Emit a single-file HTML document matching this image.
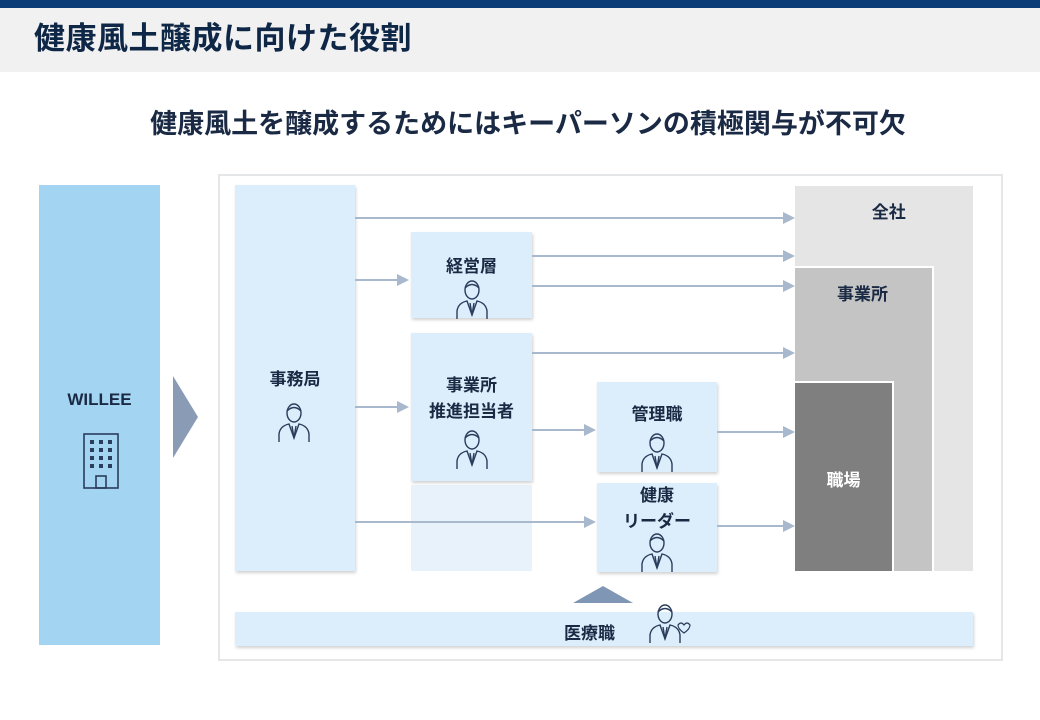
<!DOCTYPE html>
<html><head><meta charset="utf-8"><style>
*{margin:0;padding:0;box-sizing:border-box}
body{width:1040px;height:720px;background:#fff;position:relative;overflow:hidden;font-family:"Liberation Sans","Noto Sans CJK JP",sans-serif;color:#1b2a44}
.a{position:absolute}
.box{position:absolute;background:#dceefb;box-shadow:1px 2px 3px rgba(0,0,0,.18)}
.lbl{position:absolute;width:100%;text-align:center;font-weight:bold;font-size:17px;line-height:26px}
.ln{position:absolute;height:2px;background:#a9b9cd}
.ah{position:absolute;width:0;height:0;border-top:6px solid transparent;border-bottom:6px solid transparent;border-left:12px solid #a9b9cd}
svg.p{position:absolute}
</style></head><body>
<div class="a" style="left:0;top:0;width:1040px;height:8px;background:#0b3c78"></div>
<div class="a" style="left:0;top:8px;width:1040px;height:64px;background:#f1f1f1"></div>
<div class="a" style="left:34px;top:19px;font-size:31px;letter-spacing:0.5px;font-weight:bold;line-height:40px;color:#0f2747">健康風土醸成に向けた役割</div>
<div class="a" style="left:0;top:106px;width:1056px;text-align:center;font-size:27px;font-weight:bold;line-height:36px;color:#1b2a44">健康風土を醸成するためにはキーパーソンの積極関与が不可欠</div>

<div class="a" style="left:39px;top:185px;width:121px;height:460px;background:#a3d4f2"></div>
<div class="a" style="left:39px;top:390px;width:121px;text-align:center;font-weight:bold;font-size:17px">WILLEE</div>
<svg class="p" style="left:80px;top:432px" width="42" height="58" viewBox="0 0 42 58" fill="none" stroke="#2a3d5c" stroke-width="1.6">
<rect x="4" y="2" width="34" height="54"/>
<g fill="#2a3d5c" stroke="none">
<rect x="10" y="8" width="4" height="4"/><rect x="19" y="8" width="4" height="4"/><rect x="28" y="8" width="4" height="4"/>
<rect x="10" y="16" width="4" height="4"/><rect x="19" y="16" width="4" height="4"/><rect x="28" y="16" width="4" height="4"/>
<rect x="10" y="24" width="4" height="4"/><rect x="19" y="24" width="4" height="4"/><rect x="28" y="24" width="4" height="4"/>
<rect x="10" y="32" width="4" height="4"/><rect x="19" y="32" width="4" height="4"/><rect x="28" y="32" width="4" height="4"/>
</g><rect x="16" y="44" width="10" height="12"/></svg>
<div class="a" style="left:173px;top:376px;width:0;height:0;border-top:41px solid transparent;border-bottom:41px solid transparent;border-left:25px solid #8a9bb5"></div>

<div class="a" style="left:218px;top:174px;width:785px;height:487px;border:2px solid #e4e6e8"></div>

<div class="a" style="left:795px;top:186px;width:178px;height:385px;background:#e5e5e5"></div>
<div class="a" style="left:795px;top:198px;width:178px;text-align:center;font-weight:bold;font-size:17px">&nbsp;&nbsp;全社</div>
<div class="a" style="left:795px;top:266px;width:139px;height:305px;background:#c4c4c4;border:2px solid #fff;border-left:none;border-bottom:none"></div>
<div class="a" style="left:795px;top:280px;width:135px;text-align:center;font-weight:bold;font-size:17px">事業所</div>
<div class="a" style="left:795px;top:381px;width:99px;height:190px;background:#7f7f7f;border:2px solid #fff;border-left:none;border-bottom:none"></div>
<div class="a" style="left:795px;top:466px;width:97px;text-align:center;font-weight:bold;font-size:17px;color:#fff">職場</div>

<div class="a" style="left:411px;top:485px;width:121px;height:86px;background:#e8f2fa"></div>

<div class="box" style="left:235px;top:185px;width:120px;height:386px"><div class="lbl" style="top:182px">事務局</div></div>
<div class="box" style="left:411px;top:232px;width:121px;height:86px"><div class="lbl" style="top:22px">経営層</div></div>
<div class="box" style="left:411px;top:333px;width:121px;height:148px"><div class="lbl" style="top:40px">事業所<br>推進担当者</div></div>
<div class="box" style="left:597px;top:382px;width:120px;height:90px"><div class="lbl" style="top:20px">管理職</div></div>
<div class="box" style="left:597px;top:483px;width:120px;height:89px"><div class="lbl" style="top:0px">健康<br>リーダー</div></div>
<div class="box" style="left:235px;top:612px;width:738px;height:34px"></div>
<div class="a" style="left:564px;top:619px;font-weight:bold;font-size:17px">医療職</div>
<div class="a" style="left:573px;top:586px;width:0;height:0;border-left:30px solid transparent;border-right:30px solid transparent;border-bottom:17px solid #7f97b5"></div>

<div class="ln" style="left:355px;top:217px;width:428px"></div><div class="ah" style="left:783px;top:212px"></div>
<div class="ln" style="left:355px;top:279px;width:42px"></div><div class="ah" style="left:397px;top:274px"></div>
<div class="ln" style="left:532px;top:255px;width:251px"></div><div class="ah" style="left:783px;top:250px"></div>
<div class="ln" style="left:532px;top:285px;width:251px"></div><div class="ah" style="left:783px;top:280px"></div>
<div class="ln" style="left:532px;top:352px;width:251px"></div><div class="ah" style="left:783px;top:347px"></div>
<div class="ln" style="left:355px;top:406px;width:42px"></div><div class="ah" style="left:397px;top:401px"></div>
<div class="ln" style="left:532px;top:429px;width:52px"></div><div class="ah" style="left:584px;top:424px"></div>
<div class="ln" style="left:717px;top:431px;width:66px"></div><div class="ah" style="left:783px;top:426px"></div>
<div class="ln" style="left:355px;top:521px;width:229px"></div><div class="ah" style="left:584px;top:516px"></div>
<div class="ln" style="left:717px;top:525px;width:66px"></div><div class="ah" style="left:783px;top:520px"></div>

<svg width="0" height="0" style="position:absolute"><defs>
<g id="per" fill="none" stroke="#2a3d5c" stroke-width="1.4">
<ellipse cx="17" cy="11" rx="7" ry="9"/>
<path d="M10 9 Q17 2 24 9"/>
<path d="M2 40 V32 Q3 24 12 22 L17 36 L22 22 Q31 24 32 32 V40"/>
<path d="M15 24 L17 36 L19 24"/>
</g></defs></svg>
<svg class="p" style="left:277px;top:402px" width="36" height="42"><use href="#per"/></svg>
<svg class="p" style="left:455px;top:279px" width="36" height="42"><use href="#per"/></svg>
<svg class="p" style="left:455px;top:429px" width="36" height="42"><use href="#per"/></svg>
<svg class="p" style="left:640px;top:432px" width="36" height="42"><use href="#per"/></svg>
<svg class="p" style="left:640px;top:532px" width="36" height="42"><use href="#per"/></svg>
<svg class="p" style="left:648px;top:603px" width="46" height="42"><use href="#per"/><path d="M30 22 q3-4 6 0 q3-4 6 0 q0 4-6 8 q-6-4-6-8z" fill="none" stroke="#2a3d5c" stroke-width="1.2"/></svg>
</body></html>
